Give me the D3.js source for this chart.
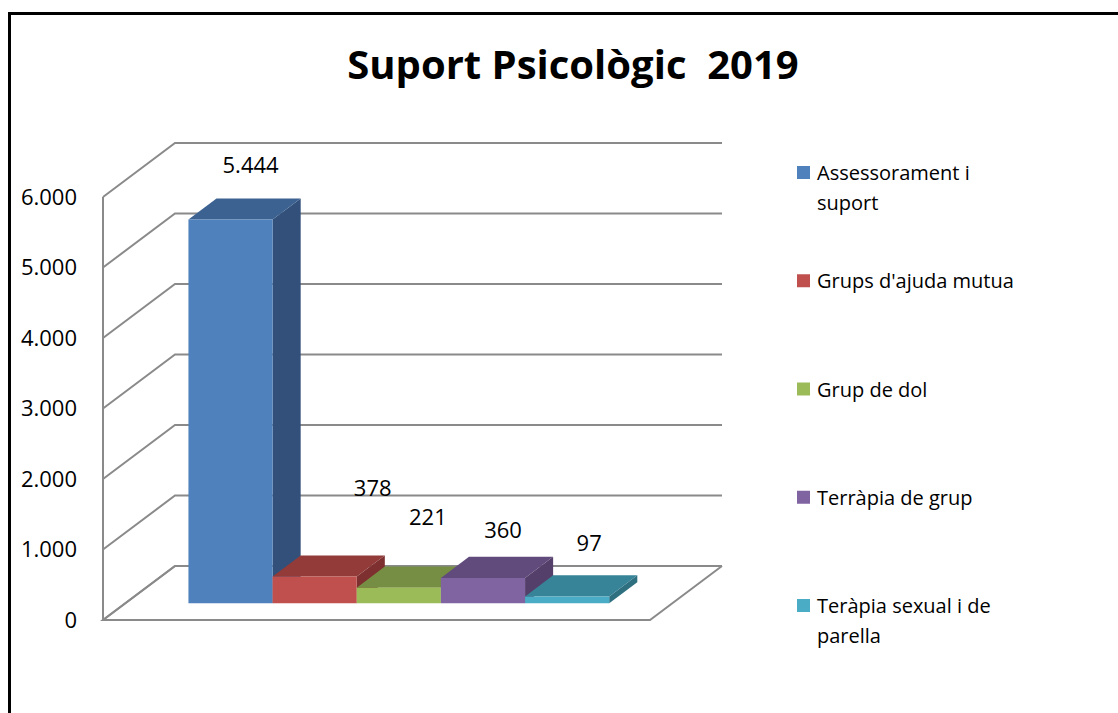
<!DOCTYPE html>
<html>
<head>
<meta charset="utf-8">
<script src="https://cdn.jsdelivr.net/npm/d3@7/dist/d3.min.js"></script>
<style>
  html, body { margin: 0; padding: 0; background: #fff; }
  svg { display: block; }
  text { font-family: "Open Sans", "Noto Sans", sans-serif; fill: #000; white-space: pre; }
</style>
</head>
<body>
<svg id="chart" width="1118" height="713"></svg>
<script>
// ---- data ----
const title = "Suport Psicològic  2019";
const categories = ["Assessorament i suport", "Grups d'ajuda mutua", "Grup de dol", "Terràpia de grup", "Teràpia sexual i de parella"];
const legendLines = [["Assessorament i", "suport"], ["Grups d'ajuda mutua"], ["Grup de dol"], ["Terràpia de grup"], ["Teràpia sexual i de", "parella"]];
const values = [5444, 378, 221, 360, 97];
const valueLabels = ["5.444", "378", "221", "360", "97"];
const yTicks = [0, 1000, 2000, 3000, 4000, 5000, 6000];
const yTickLabels = ["0", "1.000", "2.000", "3.000", "4.000", "5.000", "6.000"];

// ---- styles / layout ----
const frontColors = ["#4F81BD", "#C0504D", "#9BBB59", "#8064A2", "#4BACC6"];
const topColors   = ["#3C6291", "#923B39", "#768E43", "#614B7C", "#378397"];
const sideColors  = ["#32507A", "#7D302F", "#637837", "#533F69", "#2E6F80"];
// label displacement (px) from the bar's back-top centre, as placed in the original
const labelShift = [[-8, -33], [30, -67], [1, -50], [-8, -27], [-6, -32]];

const svg = d3.select("#chart");
const W = 1118, H = 713;

// border (left + top only visible)
svg.append("path")
  .attr("d", `M9.5,${H + 5} L9.5,13.5 L${W + 5},13.5`)
  .attr("fill", "none").attr("stroke", "#000").attr("stroke-width", 3);

// 3D projection
const baseY = 620;
const depthDX = 72, depthDY = -54;
const x = d3.scaleBand().domain(categories).range([103, 650]).paddingInner(0).paddingOuter(0.75);
const y = d3.scaleLinear().domain([0, 6000]).range([0, 423]);
const proj = (px, v, t) => [px + t * depthDX, baseY - y(v) + t * depthDY];
const barT0 = 0.31, barT1 = 0.70;

const grid = "#8A8A8A";
const g = svg.append("g");
const line = d3.line();

// floor outline
g.append("path")
  .attr("d", line([proj(x.range()[0], 0, 1), proj(x.range()[0], 0, 0), proj(x.range()[1], 0, 0), proj(x.range()[1], 0, 1)]))
  .attr("fill", "#fff").attr("stroke", grid).attr("stroke-width", 2);

// back wall gridlines + side wall diagonals
yTicks.forEach(v => {
  g.append("path")
    .attr("d", line([proj(x.range()[0], v, 0), proj(x.range()[0], v, 1), proj(x.range()[1], v, 1)]))
    .attr("fill", "none").attr("stroke", grid).attr("stroke-width", 2);
});
// left wall front edge
g.append("path")
  .attr("d", line([proj(x.range()[0], 0, 0), proj(x.range()[0], 6000, 0)]))
  .attr("fill", "none").attr("stroke", grid).attr("stroke-width", 2);

// y tick labels
g.selectAll("text.ytick").data(yTicks).enter().append("text")
  .attr("class", "ytick")
  .attr("x", 77)
  .attr("y", (d) => proj(x.range()[0], d, 0)[1])
  .attr("dy", "0.36em")
  .attr("text-anchor", "end")
  .style("font-size", "22px")
  .text((d, i) => yTickLabels[i]);

// bars
categories.forEach((c, i) => {
  const x0 = x(c), x1 = x(c) + x.bandwidth(), v = values[i];
  const bars = g.append("g");
  bars.append("path")
    .attr("d", line([proj(x1, 0, barT0), proj(x1, 0, barT1), proj(x1, v, barT1), proj(x1, v, barT0)]) + "Z")
    .attr("fill", sideColors[i]);
  bars.append("path")
    .attr("d", line([proj(x0, v, barT0), proj(x1, v, barT0), proj(x1, v, barT1), proj(x0, v, barT1)]) + "Z")
    .attr("fill", topColors[i]);
  bars.append("path")
    .attr("d", line([proj(x0, 0, barT0), proj(x1, 0, barT0), proj(x1, v, barT0), proj(x0, v, barT0)]) + "Z")
    .attr("fill", frontColors[i]);
});

// value labels
categories.forEach((c, i) => {
  const p = proj(x(c) + x.bandwidth() / 2, values[i], barT1);
  g.append("text")
    .attr("x", p[0] + labelShift[i][0])
    .attr("y", p[1] + labelShift[i][1])
    .attr("dy", "0.36em")
    .attr("text-anchor", "middle")
    .style("font-size", "22px")
    .text(valueLabels[i]);
});

// title
svg.append("text")
  .attr("x", 573).attr("y", 79)
  .attr("text-anchor", "middle")
  .attr("xml:space", "preserve")
  .style("font-size", "40px").style("font-weight", "bold")
  .text(title);

// legend
const legY = d3.scalePoint().domain(categories).range([173, 606]);
categories.forEach((c, i) => {
  const lg = svg.append("g").attr("transform", `translate(797,${legY(c)})`);
  lg.append("rect").attr("x", 0).attr("y", -7).attr("width", 13).attr("height", 13).attr("fill", frontColors[i]);
  legendLines[i].forEach((t, j) => {
    lg.append("text")
      .attr("x", 20).attr("y", j * 30)
      .attr("dy", "0.36em")
      .style("font-size", "20px")
      .text(t);
  });
});
</script>
</body>
</html>
